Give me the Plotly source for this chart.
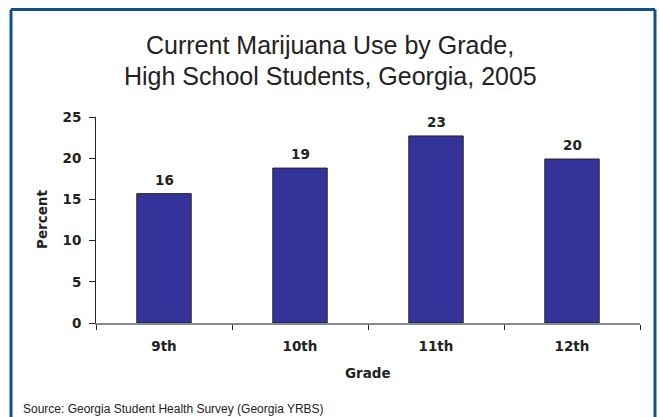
import plotly.graph_objects as go

grades = ["9th", "10th", "11th", "12th"]
percent = [15.7, 18.8, 22.7, 19.9]
labels = ["16", "19", "23", "20"]

title_lines = ["Current Marijuana Use by Grade,", "High School Students, Georgia, 2005"]
x_title = "Grade"
y_title = "Percent"
source_text = "Source: Georgia Student Health Survey (Georgia YRBS)"

W, H = 660, 417
L, R, T, B = 96, 20, 117, 94
pw, ph = W - L - R, H - T - B

def px_x(x):
    return (x - L) / pw

def px_y(y):
    return (H - B - y) / ph

BOLD = "DejaVu Sans"
REG = "Liberation Sans, Arial"
DARK = "#222222"
FRAME = "#0f4f8c"
FS = 13.5

fig = go.Figure()
fig.add_trace(go.Bar(
    x=grades, y=percent,
    marker=dict(color="#333399", line=dict(color=DARK, width=1)),
    hoverinfo="x+y",
))

annotations = []
for g, v, t in zip(grades, percent, labels):
    annotations.append(dict(
        x=g, y=v, xref="x", yref="y", text="<b>%s</b>" % t, showarrow=False,
        yanchor="middle", yshift=14,
        font=dict(family=BOLD, size=FS, color=DARK),
    ))

for i, line in enumerate(title_lines):
    annotations.append(dict(
        text=line, xref="paper", yref="paper",
        x=px_x(W / 2), y=px_y(45 + 31 * i), xanchor="center", yanchor="middle",
        showarrow=False, font=dict(family=REG, size=25, color=DARK),
    ))

annotations.append(dict(
    text="<b>%s</b>" % x_title, xref="paper", yref="paper",
    x=px_x(368), y=px_y(373), xanchor="center", yanchor="middle",
    showarrow=False, font=dict(family=BOLD, size=FS, color=DARK),
))
annotations.append(dict(
    text="<b>%s</b>" % y_title, xref="paper", yref="paper", textangle=-90,
    x=px_x(42), y=px_y(220), xanchor="center", yanchor="middle",
    showarrow=False, font=dict(family=BOLD, size=FS, color=DARK),
))
annotations.append(dict(
    text=source_text, xref="paper", yref="paper",
    x=px_x(21), y=px_y(409), xanchor="left", yanchor="middle",
    showarrow=False, font=dict(family=REG, size=12, color=DARK),
))

frame_lines = [
    (11, 9.5, 11, 440),
    (11, 9.5, 655, 9.5),
    (655, 9.5, 655, 440),
]
shapes = [dict(
    type="line", xref="paper", yref="paper",
    x0=px_x(a), y0=px_y(b), x1=px_x(c), y1=px_y(d),
    line=dict(color=FRAME, width=3), layer="above",
) for a, b, c, d in frame_lines]

fig.update_layout(
    width=W, height=H,
    margin=dict(l=L, r=R, t=T, b=B),
    paper_bgcolor="white", plot_bgcolor="white",
    bargap=0.6,
    showlegend=False,
    font=dict(family=REG, color=DARK),
    xaxis=dict(
        showline=True, linecolor="#888888", linewidth=2,
        ticks="outside", tickson="boundaries", ticklen=5, tickcolor=DARK,
        tickfont=dict(family=BOLD, size=FS, weight="bold"),
        ticklabelstandoff=10,
        showgrid=False, zeroline=False,
    ),
    yaxis=dict(
        range=[0, 25], tick0=0, dtick=5,
        showline=True, linecolor=DARK, linewidth=1,
        ticks="outside", ticklen=6, tickcolor=DARK,
        tickfont=dict(family=BOLD, size=FS, weight="bold"),
        ticklabelstandoff=5,
        showgrid=False, zeroline=False,
    ),
    shapes=shapes,
    annotations=annotations,
)

fig.write_html(
    "out.html",
    config={"displayModeBar": False},
    post_script="document.body.style.margin='0px';document.body.style.overflow='hidden';",
)
